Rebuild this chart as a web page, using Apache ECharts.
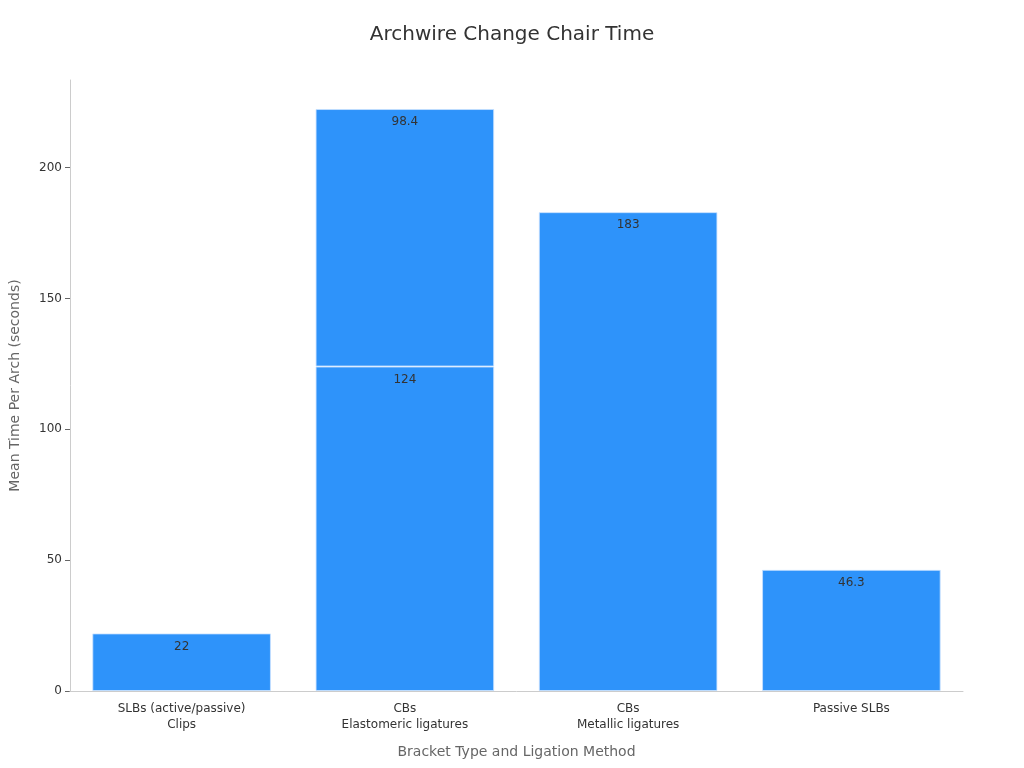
<!DOCTYPE html>
<html>
<head>
<meta charset="utf-8">
<script src="https://cdn.jsdelivr.net/npm/echarts@6/dist/echarts.min.js"></script>
<style>html,body{margin:0;padding:0;background:#fff;}#chart{width:1024px;height:768px;}</style>
</head>
<body>
<div id="chart"></div>
<script>
const categories = ["SLBs (active/passive)\nClips", "CBs\nElastomeric ligatures", "CBs\nMetallic ligatures", "Passive SLBs"];
const baseValues = [22, 124, 183, 46.3];
const extraValues = [null, 98.4, null, null];
const yMax = 233.5;

const chart = echarts.init(document.getElementById('chart'));
const labelCfg = { show: true, position: 'insideTop', distance: 7, color: '#333', fontSize: 12, fontFamily: 'DejaVu Sans' };
chart.setOption({
  textStyle: { fontFamily: 'DejaVu Sans' },
  title: { text: 'Archwire Change Chair Time', left: 'center', top: 20, textStyle: { fontSize: 20, fontWeight: 'normal', color: '#333', fontFamily: 'DejaVu Sans' } },
  grid: { left: 67, right: 61, top: 80, bottom: 77 },
  xAxis: {
    type: 'category', data: categories,
    name: 'Bracket Type and Ligation Method', nameLocation: 'middle', nameGap: 54,
    nameTextStyle: { color: '#666', fontSize: 14 },
    axisLine: { lineStyle: { color: '#ccc' } },
    axisTick: { alignWithLabel: true, lineStyle: { color: '#999' } },
    axisLabel: { color: '#333', fontSize: 12, interval: 0, lineHeight: 16, margin: 10 },
    z: 10
  },
  yAxis: {
    type: 'value', min: 0, max: yMax, interval: 50,
    name: 'Mean Time Per Arch (seconds)', nameLocation: 'middle', nameGap: 48,
    nameTextStyle: { color: '#666', fontSize: 14 },
    axisLine: { show: true, lineStyle: { color: '#ccc' } },
    axisTick: { show: true, lineStyle: { color: '#666' } },
    axisLabel: { color: '#333', fontSize: 12, showMaxLabel: false },
    splitLine: { show: false }
  },
  series: [
    { type: 'bar', stack: 'a', data: baseValues, barCategoryGap: '20%',
      itemStyle: { color: '#2E93FA', borderColor: 'rgba(200,225,255,0.8)', borderWidth: 1 }, label: labelCfg },
    { type: 'bar', stack: 'a', data: extraValues,
      itemStyle: { color: '#2E93FA', borderColor: 'rgba(200,225,255,0.8)', borderWidth: 1 }, label: labelCfg }
  ]
});
</script>
</body>
</html>
